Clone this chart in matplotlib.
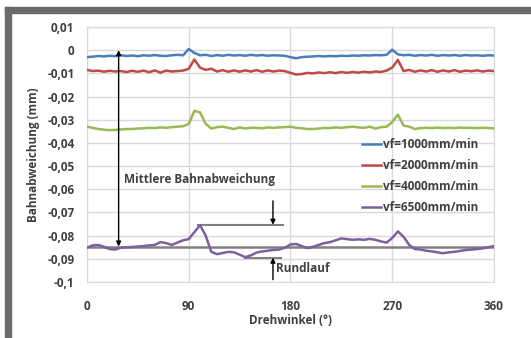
import numpy as np
import matplotlib.pyplot as plt
from matplotlib.patches import Rectangle

plt.rcParams['font.family'] = ['Open Sans', 'DejaVu Sans']

# ===================== 数据 =====================
winkel = list(range(0, 361, 5))

vf1000 = [-0.0030, -0.0028, -0.0025, -0.0027, -0.0024, -0.0026, -0.0022, -0.0025, -0.0023, -0.0026,
          -0.0022, -0.0024, -0.0021, -0.0024, -0.0025, -0.0022, -0.0020, -0.0022, 0.0005, -0.0012,
          -0.0022, -0.0020, -0.0025, -0.0021, -0.0024, -0.0020, -0.0023, -0.0021, -0.0024, -0.0020,
          -0.0023, -0.0021, -0.0024, -0.0022, -0.0023, -0.0024, -0.0030, -0.0035, -0.0030, -0.0028,
          -0.0027, -0.0025, -0.0027, -0.0025, -0.0026, -0.0024, -0.0025, -0.0023, -0.0024, -0.0022,
          -0.0023, -0.0021, -0.0022, -0.0020, 0.0002, -0.0018, -0.0022, -0.0020, -0.0024, -0.0021,
          -0.0023, -0.0020, -0.0024, -0.0021, -0.0023, -0.0021, -0.0024, -0.0021, -0.0023, -0.0022,
          -0.0024, -0.0022, -0.0023]

vf2000 = [-0.0085, -0.0090, -0.0088, -0.0093, -0.0089, -0.0092, -0.0090, -0.0094, -0.0089, -0.0093,
          -0.0088, -0.0095, -0.0087, -0.0097, -0.0088, -0.0092, -0.0090, -0.0088, -0.0080, -0.0040,
          -0.0075, -0.0085, -0.0080, -0.0092, -0.0086, -0.0093, -0.0087, -0.0093, -0.0087, -0.0092,
          -0.0086, -0.0093, -0.0087, -0.0092, -0.0088, -0.0090, -0.0098, -0.0105, -0.0103, -0.0098,
          -0.0100, -0.0096, -0.0099, -0.0095, -0.0099, -0.0094, -0.0098, -0.0094, -0.0097, -0.0093,
          -0.0096, -0.0092, -0.0094, -0.0088, -0.0075, -0.0042, -0.0090, -0.0085, -0.0093, -0.0087,
          -0.0092, -0.0086, -0.0093, -0.0087, -0.0092, -0.0086, -0.0093, -0.0088, -0.0091, -0.0087,
          -0.0092, -0.0088, -0.0090]

vf4000 = [-0.0330, -0.0335, -0.0340, -0.0343, -0.0345, -0.0344, -0.0342, -0.0340, -0.0340, -0.0338,
          -0.0337, -0.0335, -0.0336, -0.0333, -0.0335, -0.0332, -0.0330, -0.0328, -0.0318, -0.0262,
          -0.0268, -0.0318, -0.0338, -0.0332, -0.0330, -0.0335, -0.0340, -0.0333, -0.0338, -0.0335,
          -0.0335, -0.0337, -0.0333, -0.0335, -0.0333, -0.0332, -0.0330, -0.0335, -0.0337, -0.0340,
          -0.0340, -0.0338, -0.0335, -0.0336, -0.0333, -0.0335, -0.0332, -0.0330, -0.0333, -0.0335,
          -0.0330, -0.0338, -0.0332, -0.0330, -0.0310, -0.0278, -0.0325, -0.0330, -0.0340, -0.0336,
          -0.0335, -0.0336, -0.0334, -0.0336, -0.0335, -0.0336, -0.0334, -0.0335, -0.0335, -0.0336,
          -0.0335, -0.0336, -0.0337]

vf6500 = [-0.0852, -0.0842, -0.0840, -0.0848, -0.0858, -0.0860, -0.0852, -0.0850, -0.0849, -0.0847,
          -0.0845, -0.0842, -0.0840, -0.0828, -0.0832, -0.0840, -0.0830, -0.0820, -0.0815, -0.0785,
          -0.0755, -0.0800, -0.0870, -0.0880, -0.0875, -0.0870, -0.0872, -0.0882, -0.0893, -0.0885,
          -0.0873, -0.0868, -0.0865, -0.0862, -0.0860, -0.0852, -0.0838, -0.0836, -0.0845, -0.0854,
          -0.0848, -0.0840, -0.0832, -0.0828, -0.0820, -0.0812, -0.0815, -0.0818, -0.0816, -0.0818,
          -0.0814, -0.0818, -0.0825, -0.0830, -0.0810, -0.0782, -0.0805, -0.0840, -0.0858, -0.0860,
          -0.0865, -0.0868, -0.0872, -0.0876, -0.0872, -0.0870, -0.0866, -0.0862, -0.0860, -0.0858,
          -0.0855, -0.0850, -0.0845]

SERIEN = [
    (vf1000, 'vf=1000mm/min', '#4a7ebb'),
    (vf2000, 'vf=2000mm/min', '#be4b48'),
    (vf4000, 'vf=4000mm/min', '#98b954'),
    (vf6500, 'vf=6500mm/min', '#7d60a0'),
]

y_ticks = [0.01, 0, -0.01, -0.02, -0.03, -0.04, -0.05, -0.06, -0.07, -0.08, -0.09, -0.1]
y_labels = ['0,01', '0', '-0,01', '-0,02', '-0,03', '-0,04', '-0,05', '-0,06', '-0,07',
            '-0,08', '-0,09', '-0,1']
x_ticks = [0, 90, 180, 270, 360]

# Kennwerte für die Annotation
mittel = -0.0847
max_wert = -0.0753
min_wert = -0.0895

TEXTFARBE = '#404040'

# ===================== 绘图 =====================
fig = plt.figure(figsize=(5.31, 3.38), dpi=100)
ax = fig.add_axes([0.1638, 0.1657, 0.9303 - 0.1638, 0.9201 - 0.1657])

# grauer Rahmen oben und links
fig.patches.append(Rectangle((5 / 531, 0), 6 / 531, 1 - 7 / 338, transform=fig.transFigure,
                             color='#6b6b6b', zorder=0))
fig.patches.append(Rectangle((5 / 531, 1 - 13 / 338), 1, 6 / 338, transform=fig.transFigure,
                             color='#6b6b6b', zorder=0))

for werte, label, farbe in SERIEN:
    ax.plot(winkel, werte, color=farbe, linewidth=1.8, label=label, zorder=3)

# Annotationen
ax.plot([0, 360], [mittel, mittel], color='#808080', linewidth=1.8, zorder=2)
ax.plot([98, 173], [max_wert, max_wert], color='#808080', linewidth=1.5, zorder=2)
ax.plot([140, 172], [min_wert, min_wert], color='#808080', linewidth=1.5, zorder=2)

ax.annotate('', xy=(28, mittel), xytext=(28, 0.0),
            arrowprops=dict(arrowstyle='<|-|>', color='black', lw=1.0,
                            mutation_scale=7, shrinkA=0, shrinkB=0), zorder=4)
ax.annotate('', xy=(164.5, max_wert), xytext=(164.5, -0.065),
            arrowprops=dict(arrowstyle='-|>', color='black', lw=1.0,
                            mutation_scale=7, shrinkA=0, shrinkB=0), zorder=4)
ax.annotate('', xy=(164.5, min_wert), xytext=(164.5, -0.099),
            arrowprops=dict(arrowstyle='-|>', color='black', lw=1.0,
                            mutation_scale=7, shrinkA=0, shrinkB=0), zorder=4)

ax.text(32.5, -0.0557, 'Mittlere Bahnabweichung', fontsize=8.5, fontweight='bold',
        color=TEXTFARBE, va='center', ha='left')
ax.text(167, -0.0942, 'Rundlauf', fontsize=8.5, fontweight='bold',
        color=TEXTFARBE, va='center', ha='left')

ax.set_xlim(0, 360)
ax.set_ylim(-0.1, 0.01)
ax.set_xticks(x_ticks)
ax.set_xticklabels([str(t) for t in x_ticks])
ax.set_yticks(y_ticks)
ax.set_yticklabels(y_labels)
ax.tick_params(axis='both', length=0, labelsize=8.5, labelcolor=TEXTFARBE)
ax.tick_params(axis='y', pad=9)
ax.tick_params(axis='x', pad=13)
for lab in ax.get_xticklabels() + ax.get_yticklabels():
    lab.set_fontweight('bold')

ax.grid(True, color='#d9d9d9', linewidth=1.0, zorder=0)
for sp in ax.spines.values():
    sp.set_color('#d9d9d9')

ax.set_xlabel('Drehwinkel (°)', fontsize=8.5, fontweight='bold', color=TEXTFARBE, labelpad=1)
ax.set_ylabel('Bahnabweichung (mm)', fontsize=8.5, fontweight='bold', color=TEXTFARBE, labelpad=5)

ax.legend(loc='upper left', bbox_to_anchor=(356 / 531, 1 - 132 / 338),
          bbox_transform=fig.transFigure, frameon=False,
          handlelength=1.6, handletextpad=0.15, labelspacing=0.68, borderpad=0,
          labelcolor=TEXTFARBE, prop={'weight': 'bold', 'size': 8.5})

fig.savefig('out.png', dpi=100)
